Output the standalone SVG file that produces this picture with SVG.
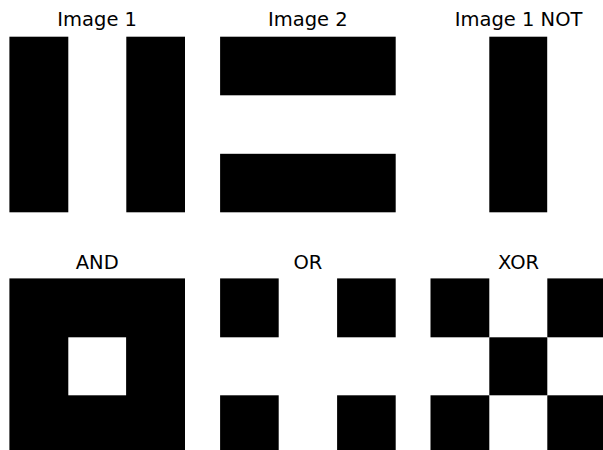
<svg xmlns="http://www.w3.org/2000/svg" width="603" height="450" viewBox="0 0 603 450">
<style>
.t{font-family:"DejaVu Sans",sans-serif;font-size:19.5px;fill:#000;text-anchor:middle}
.b{fill:#000}
.w{fill:#fff}
</style>
<rect width="603" height="450" fill="#fff"/>
<g id="img1">
<text class="t" x="97.2" y="26.3">Image 1</text>
<rect class="b" x="9.4" y="36.7" width="58.9" height="175.6"/>
<rect class="b" x="126.3" y="36.7" width="58.7" height="175.6"/>
</g>
<g id="img2">
<text class="t" x="307.9" y="26.3">Image 2</text>
<rect class="b" x="220.1" y="36.7" width="175.6" height="58.6"/>
<rect class="b" x="220.1" y="153.8" width="175.6" height="58.5"/>
</g>
<g id="not">
<text class="t" x="518.6" y="26.3">Image 1 NOT</text>
<rect class="b" x="489.3" y="36.7" width="57.9" height="175.6"/>
</g>
<g id="and">
<text class="t" x="97.2" y="269.3">AND</text>
<rect class="b" x="9.4" y="278.4" width="175.6" height="175.6"/>
<rect class="w" x="68.3" y="337.3" width="57.8" height="58"/>
</g>
<g id="or">
<text class="t" x="307.9" y="269.3">OR</text>
<rect class="b" x="220.1" y="278.4" width="58.6" height="58.9"/>
<rect class="b" x="337.1" y="278.4" width="58.6" height="58.9"/>
<rect class="b" x="220.1" y="395.3" width="58.6" height="58.7"/>
<rect class="b" x="337.1" y="395.3" width="58.6" height="58.7"/>
</g>
<g id="xor">
<text class="t" x="518.6" y="269.3">XOR</text>
<rect class="b" x="430.5" y="278.4" width="58.8" height="58.9"/>
<rect class="b" x="547.3" y="278.4" width="58.8" height="58.9"/>
<rect class="b" x="489.3" y="337.3" width="58" height="58"/>
<rect class="b" x="430.5" y="395.3" width="58.8" height="58.7"/>
<rect class="b" x="547.3" y="395.3" width="58.8" height="58.7"/>
</g>
</svg>
